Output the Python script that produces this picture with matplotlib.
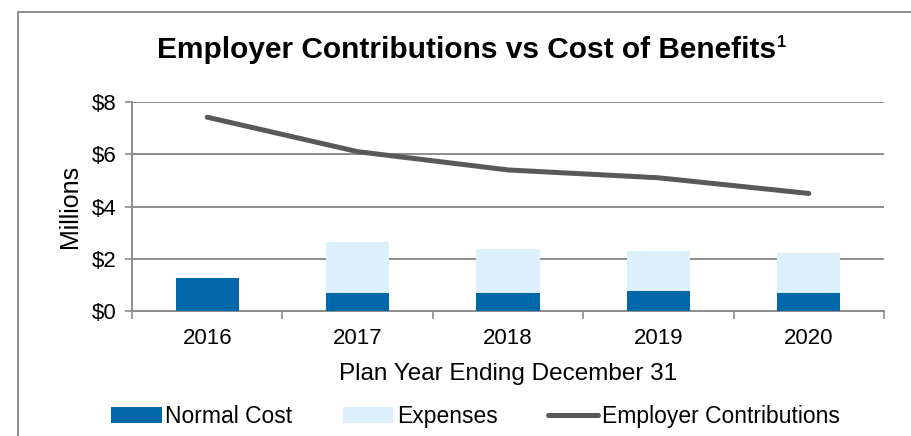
import matplotlib
matplotlib.use('Agg')
import matplotlib.pyplot as plt
from matplotlib.patches import Rectangle
from matplotlib.ticker import FixedLocator, FuncFormatter

plt.rcParams['font.family'] = ['Liberation Sans', 'DejaVu Sans']

# ===========================
# 데이터
# ===========================
YEARS = ["2016", "2017", "2018", "2019", "2020"]
NORMAL_COST = [1.26, 0.70, 0.70, 0.77, 0.70]
EXPENSES = [0.00, 1.94, 1.66, 1.52, 1.52]
EMPLOYER_CONTRIB = [7.42, 6.10, 5.40, 5.10, 4.50]

C_NORMAL = "#0068A8"
C_EXP = "#DCF0FC"
C_LINE = "#595959"
C_GRID = "#8C8C8C"

fig = plt.figure(figsize=(9.11, 4.36), dpi=100)
ax = fig.add_axes([0.1449, 0.2867, 0.8255, 0.4793])

x = list(range(len(YEARS)))
b1 = ax.bar(x, NORMAL_COST, width=0.42, color=C_NORMAL, label="Normal Cost", zorder=3)
b2 = ax.bar(x, EXPENSES, width=0.42, bottom=NORMAL_COST, color=C_EXP,
            label="Expenses", zorder=3)
ln, = ax.plot(x, EMPLOYER_CONTRIB, color=C_LINE, linewidth=3.6, solid_capstyle='round',
              solid_joinstyle='round', label="Employer Contributions", zorder=4)

ax.set_xlim(-0.5, 4.5)
ax.set_ylim(0, 8)
ax.set_yticks([0, 2, 4, 6, 8])
ax.yaxis.set_major_formatter(FuncFormatter(lambda v, p: f"${int(v)}"))
ax.set_xticks(x)
ax.set_xticklabels(YEARS)
ax.xaxis.set_minor_locator(FixedLocator([-0.5, 0.5, 1.5, 2.5, 3.5, 4.5]))

ax.tick_params(axis='x', which='major', length=0, pad=12, labelsize=16)
ax.tick_params(axis='x', which='minor', length=6, width=1.2, color=C_GRID, direction='out')
ax.tick_params(axis='y', length=5, width=1.2, color=C_GRID, pad=6, labelsize=16)

ax.grid(True, axis='y', color=C_GRID, linewidth=1.4, zorder=0)
ax.set_axisbelow(True)
for s in ['top', 'right']:
    ax.spines[s].set_visible(False)
for s in ['left', 'bottom']:
    ax.spines[s].set_color(C_GRID)
    ax.spines[s].set_linewidth(1.4)

ax.set_ylabel("Millions", fontsize=18, labelpad=7)
ax.set_xlabel("Plan Year Ending December 31", fontsize=17.5, labelpad=10)

# 제목 + 각주 번호
title = fig.text(0.512, 0.885, "Employer Contributions vs Cost of Benefits",
                 ha='center', va='center', fontsize=21.5, fontweight='bold')
ax.annotate("1", xy=(1, 1), xycoords=title, xytext=(1, 1), textcoords='offset points',
            ha='left', va='top', fontsize=12, fontweight='bold')

fig.legend(handles=[b1, b2, ln], loc='center', bbox_to_anchor=(0.522, 0.044), ncol=3,
           frameon=False, fontsize=16.5, handlelength=2.2, handletextpad=0.15,
           columnspacing=2.2, borderaxespad=0)

# 바깥 테두리
fig.patches.append(Rectangle((18 / 911, -0.1), 1.2, 1 - 12 / 436 + 0.1,
                             transform=fig.transFigure, fill=False,
                             edgecolor="#8C8C8C", linewidth=1.4))

plt.savefig("out.png", dpi=100)
plt.close()
